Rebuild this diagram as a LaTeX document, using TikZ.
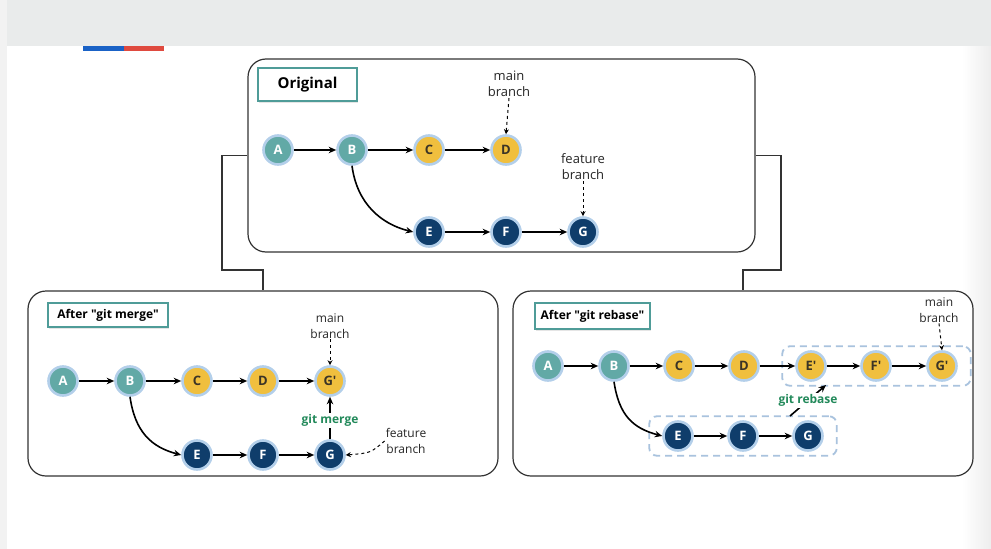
\documentclass[tikz,border=0pt]{standalone}
\usepackage{fontspec}
\newfontfamily\gitfont{Open Sans}
\usepackage{xcolor}
\usetikzlibrary{positioning,arrows.meta,fit,shadows,calc}
\definecolor{tealc}{HTML}{62A9A6}
\definecolor{tealb}{HTML}{4F9C98}
\definecolor{yell}{HTML}{F0BF3E}
\definecolor{navy}{HTML}{0F3D6B}
\definecolor{ring}{HTML}{B3CFEA}
\definecolor{dark}{HTML}{3B3426}
\definecolor{boxblue}{HTML}{A9C3DE}
\definecolor{gitgreen}{HTML}{22895A}
\definecolor{band}{HTML}{E9EBEB}
\definecolor{barblue}{HTML}{1A62C6}
\definecolor{barred}{HTML}{DF4A3F}

\begin{document}
\begin{tikzpicture}[x=1pt,y=-1pt,
  commit/.style={circle,line width=2.6pt,draw=ring,minimum size=29pt,inner sep=0pt,font=\gitfont\bfseries\fontsize{13}{13}\selectfont},
  basec/.style={commit,fill=tealc,text=white},
  mainc/.style={commit,fill=yell,text=dark},
  featc/.style={commit,fill=navy,text=white},
  panel/.style={draw=black!80,line width=1.2pt,rounded corners=18pt,fill=white},
  tag/.style={draw=tealb,line width=2.6pt,fill=white,inner sep=0pt,font=\gitfont\bfseries\fontsize{12}{14}\selectfont,
    drop shadow={opacity=0.2,shadow xshift=1pt,shadow yshift=-1.5pt}},
  ptr/.style={align=center,inner sep=1pt,text=black!85,font=\gitfont\fontsize{12}{15.5}\selectfont},
  ar/.style={-{Stealth[length=7.5pt,width=6.5pt]},line width=1.6pt},
  dar/.style={-{Stealth[length=5pt,width=5pt]},dashed,line width=1pt},
  grp/.style={draw=boxblue,dashed,dash pattern=on 7pt off 5pt,line width=1.8pt,rounded corners=8pt,inner xsep=13pt,inner ysep=4pt},
  op/.style={text=gitgreen,fill=white,inner sep=1.5pt,font=\gitfont\bfseries\fontsize{12}{14}\selectfont}]
\useasboundingbox (0,0) rectangle (991,549);
% page background
\fill[white] (0,0) rectangle (991,549);
\fill[black!5] (0,0) rectangle (7,549);
\shade[left color=white,right color=black!7] (962,46) rectangle (991,549);
\fill[band] (7,0) rectangle (991,46);
\fill[barblue] (83,46) rectangle (124,51);
\fill[barred] (124,46) rectangle (164,51);

% panels
\node[panel,minimum width=507pt,minimum height=193pt] (orig) at (501.5,155.5) {};
\node[panel,minimum width=470pt,minimum height=185pt] (merge) at (263,383.5) {};
\node[panel,minimum width=460pt,minimum height=185pt] (rebase) at (743,383.5) {};
\coordinate (lk) at (222,270);
\coordinate (rk) at (781,270);
\draw[black!80,line width=1.2pt] (orig.west) -| (lk) -| (merge.north);
\draw[black!80,line width=1.2pt] (orig.east) -| (rk) -| (rebase.north);

% original
\node[tag,minimum width=99pt,minimum height=33pt,font=\gitfont\bfseries\fontsize{15}{17}\selectfont] (t-orig) at (307.5,84.5) {Original};
\node[basec] (o-a) at (278,150) {A};
\node[basec] (o-b) at (352,150) {B};
\node[mainc] (o-c) at (429,150) {C};
\node[mainc] (o-d) at (506,150) {D};
\node[featc] (o-e) at (429,232) {E};
\node[featc] (o-f) at (506,232) {F};
\node[featc] (o-g) at (583,232) {G};
\draw[ar] (o-a)--(o-b); \draw[ar] (o-b)--(o-c); \draw[ar] (o-c)--(o-d);
\draw[ar] (o-e)--(o-f); \draw[ar] (o-f)--(o-g);
\draw[ar] (o-b.south) .. controls +(5,38) and +(-32,-8) .. (o-e.west);
\node[ptr,font=\gitfont\fontsize{13}{16}\selectfont] (o-mb) at (509,84) {main\\branch};
\node[ptr,font=\gitfont\fontsize{13}{16}\selectfont] (o-fb) at (583,167) {feature\\branch};
\draw[dar] (o-mb.south) -- (o-d.north);
\draw[dar] (o-fb.south) -- (o-g.north);

% after merge
\node[tag,minimum width=120pt,minimum height=24pt] (t-merge) at (108,315) {After "git merge"};
\node[basec] (m-a) at (63,381) {A};
\node[basec] (m-b) at (130,381) {B};
\node[mainc] (m-c) at (197,381) {C};
\node[mainc] (m-d) at (263,381) {D};
\node[mainc] (m-g2) at (330,381) {G'};
\node[featc] (m-e) at (197,455) {E};
\node[featc] (m-f) at (263,455) {F};
\node[featc] (m-g) at (330,455) {G};
\draw[ar] (m-a)--(m-b); \draw[ar] (m-b)--(m-c); \draw[ar] (m-c)--(m-d); \draw[ar] (m-d)--(m-g2);
\draw[ar] (m-e)--(m-f); \draw[ar] (m-f)--(m-g);
\draw[ar] (m-b.south) .. controls +(5,35) and +(-30,-8) .. (m-e.west);
\draw[ar] (m-g) -- node[op,pos=0.45] {git merge} (m-g2);
\node[ptr] (m-mb) at (330,326) {main\\branch};
\node[ptr] (m-fb) at (406,441) {feature\\branch};
\draw[dar] (m-mb.south) -- (m-g2.north);
\draw[dar] (m-fb.west) .. controls +(-14,12) .. (m-g.east);

% after rebase
\node[tag,minimum width=115pt,minimum height=26pt] (t-rebase) at (592.5,316) {After "git rebase"};
\node[basec] (r-a) at (548,366) {A};
\node[basec] (r-b) at (614,366) {B};
\node[mainc] (r-c) at (679,366) {C};
\node[mainc] (r-d) at (744,366) {D};
\node[mainc] (r-e2) at (811,366) {E'};
\node[mainc] (r-f2) at (876,366) {F'};
\node[mainc] (r-g2) at (942,366) {G'};
\node[featc] (r-e) at (678,436) {E};
\node[featc] (r-f) at (743,436) {F};
\node[featc] (r-g) at (808,436) {G};
\node[grp,fit=(r-e2)(r-g2)] (up) {};
\node[grp,fit=(r-e)(r-g)] (lo) {};
\draw[ar] (r-a)--(r-b); \draw[ar] (r-b)--(r-c); \draw[ar] (r-c)--(r-d); \draw[ar] (r-d)--(r-e2);
\draw[ar] (r-e2)--(r-f2); \draw[ar] (r-f2)--(r-g2);
\draw[ar] (r-e)--(r-f); \draw[ar] (r-f)--(r-g);
\draw[ar] (r-b.south) .. controls +(5,33) and +(-30,-8) .. (r-e.west);
\coordinate (rb-s) at (790,416);
\coordinate (rb-t) at (826,385);
\draw[ar] (rb-s) -- node[op] {git rebase} (rb-t);
\node[ptr] (r-mb) at (939,310) {main\\branch};
\draw[dar] (r-mb.south) -- (r-g2.north);
\end{tikzpicture}
\end{document}
